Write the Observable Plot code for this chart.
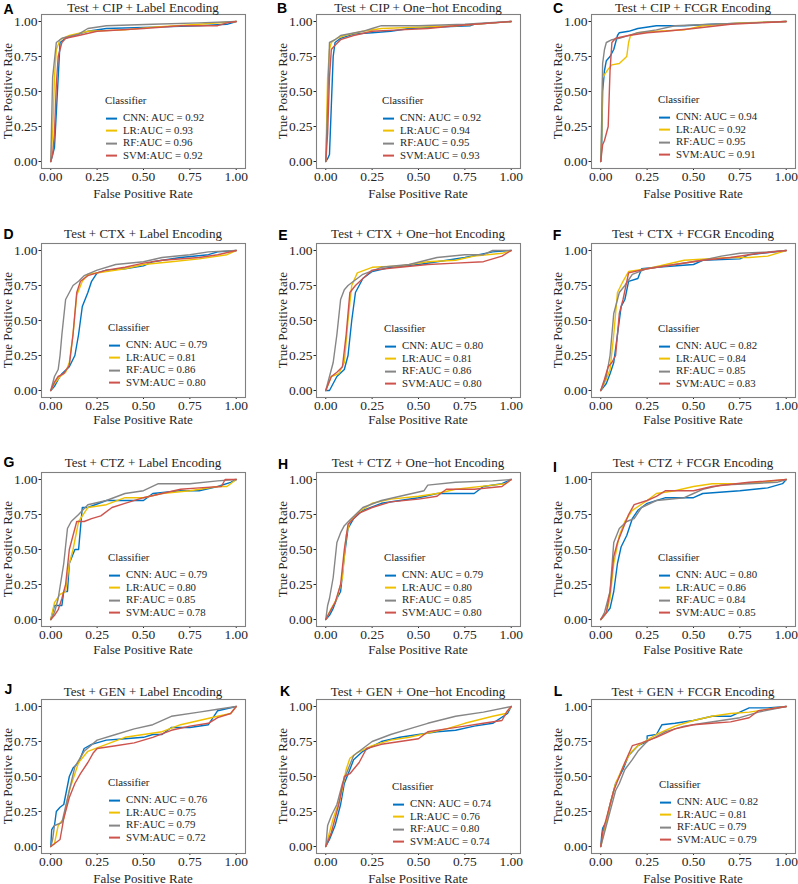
<!DOCTYPE html>
<html><head><meta charset="utf-8">
<script src="https://cdn.jsdelivr.net/npm/d3@7"></script>
<script src="https://cdn.jsdelivr.net/npm/@observablehq/plot@0.6"></script>
<style>
body{margin:0;background:#fff;}
#root{position:relative;width:798px;height:884px;overflow:hidden;font-family:"Liberation Serif","Times New Roman",serif;color:#262626;}
.abs{position:absolute;white-space:nowrap;line-height:1;}
.letter{font-family:"Liberation Sans",Arial,sans-serif;font-weight:bold;font-size:14px;color:#000;transform:translate(-50%,-50%);}
.title{font-size:13px;transform:translate(-50%,-50%);}
.xlab{font-size:13px;transform:translate(-50%,-50%);}
.ylab{font-size:13px;transform:translate(-50%,-50%) rotate(-90deg);}
.leg{font-size:10.8px;}
.key{display:inline-block;width:11px;height:0;border-top:2px solid;vertical-align:middle;margin-right:6px;}
</style></head><body><div id="root"></div>
<script>
// ---------- data ----------
const classifiers = ["CNN", "LR", "RF", "SVM"];
const palette = ["#0073C2", "#EFC000", "#868686", "#CD534C"];
const tickValues = [0, 0.25, 0.5, 0.75, 1];
const panelLetters = ["A","B","C","D","E","F","G","H","I","J","K","L"];
const panelTitles = [
  "Test + CIP + Label Encoding", "Test + CIP + One\u2212hot Encoding", "Test + CIP + FCGR Encoding",
  "Test + CTX + Label Encoding", "Test + CTX + One\u2212hot Encoding", "Test + CTX + FCGR Encoding",
  "Test + CTZ + Label Encoding", "Test + CTZ + One\u2212hot Encoding", "Test + CTZ + FCGR Encoding",
  "Test + GEN + Label Encoding", "Test + GEN + One\u2212hot Encoding", "Test + GEN + FCGR Encoding"
];
const aucValues = [
  ["0.92","0.93","0.96","0.92"], ["0.92","0.94","0.95","0.93"], ["0.94","0.92","0.95","0.91"],
  ["0.79","0.81","0.86","0.80"], ["0.80","0.81","0.86","0.80"], ["0.82","0.84","0.85","0.83"],
  ["0.79","0.80","0.85","0.78"], ["0.79","0.80","0.85","0.80"], ["0.80","0.86","0.84","0.85"],
  ["0.76","0.75","0.79","0.72"], ["0.74","0.76","0.80","0.74"], ["0.82","0.81","0.79","0.79"]
];

// ROC curves: [false positive rate, true positive rate]
const rocA = {
  CNN: [[0,0],[0.02,0.1],[0.03,0.35],[0.04,0.6],[0.05,0.85],[0.08,0.88],[0.12,0.9],[0.2,0.93],[0.3,0.95],[0.55,0.96],[0.8,0.97],[0.95,0.98],[1,1]],
  LR:  [[0,0],[0.01,0.2],[0.02,0.6],[0.03,0.8],[0.05,0.87],[0.1,0.9],[0.2,0.93],[0.4,0.94],[0.55,0.96],[0.8,0.98],[1,1]],
  RF:  [[0,0],[0.01,0.6],[0.03,0.85],[0.06,0.88],[0.15,0.91],[0.2,0.95],[0.3,0.97],[0.55,0.98],[0.8,0.99],[1,1]],
  SVM: [[0,0],[0.01,0.05],[0.02,0.2],[0.03,0.55],[0.04,0.75],[0.06,0.85],[0.08,0.88],[0.15,0.9],[0.25,0.93],[0.5,0.95],[0.7,0.97],[0.9,0.97],[0.95,0.99],[1,1]]
};
const rocB = {
  CNN: [[0,0],[0.01,0.02],[0.02,0.05],[0.03,0.4],[0.04,0.75],[0.05,0.85],[0.08,0.88],[0.15,0.91],[0.25,0.92],[0.35,0.93],[0.45,0.95],[0.6,0.96],[0.78,0.97],[0.8,0.98],[1,1]],
  LR:  [[0,0],[0.005,0.3],[0.01,0.6],[0.02,0.8],[0.03,0.85],[0.06,0.88],[0.1,0.9],[0.2,0.93],[0.3,0.95],[0.5,0.96],[0.7,0.97],[0.9,0.99],[1,1]],
  RF:  [[0,0],[0.01,0.4],[0.02,0.85],[0.05,0.87],[0.08,0.9],[0.2,0.93],[0.25,0.95],[0.3,0.97],[0.5,0.97],[0.75,0.98],[1,1]],
  SVM: [[0,0],[0.01,0.2],[0.02,0.6],[0.03,0.8],[0.05,0.83],[0.08,0.87],[0.15,0.9],[0.25,0.93],[0.4,0.94],[0.55,0.95],[0.7,0.97],[1,1]]
};
const rocC = {
  CNN: [[0,0],[0.005,0.1],[0.01,0.5],[0.02,0.65],[0.03,0.72],[0.05,0.75],[0.07,0.8],[0.08,0.85],[0.09,0.9],[0.1,0.92],[0.15,0.93],[0.2,0.95],[0.3,0.97],[0.45,0.97],[0.6,0.98],[0.8,0.99],[1,1]],
  LR:  [[0,0],[0.005,0.2],[0.01,0.6],[0.02,0.62],[0.04,0.66],[0.06,0.69],[0.1,0.7],[0.14,0.75],[0.15,0.85],[0.16,0.9],[0.2,0.92],[0.3,0.93],[0.45,0.94],[0.55,0.97],[0.75,0.99],[1,1]],
  RF:  [[0,0],[0.005,0.3],[0.01,0.7],[0.02,0.8],[0.03,0.85],[0.06,0.87],[0.1,0.88],[0.2,0.92],[0.3,0.94],[0.4,0.97],[0.6,0.98],[0.8,0.99],[1,1]],
  SVM: [[0,0],[0.01,0.12],[0.02,0.15],[0.03,0.2],[0.04,0.25],[0.05,0.65],[0.06,0.85],[0.08,0.88],[0.15,0.9],[0.25,0.92],[0.35,0.93],[0.5,0.95],[0.7,0.98],[1,1]]
};
const rocD = {
  CNN: [[0,0],[0.02,0.03],[0.04,0.08],[0.06,0.12],[0.1,0.17],[0.13,0.25],[0.15,0.4],[0.17,0.6],[0.2,0.7],[0.22,0.78],[0.25,0.84],[0.3,0.86],[0.4,0.87],[0.5,0.89],[0.55,0.92],[0.7,0.95],[0.85,0.97],[0.9,0.99],[1,1]],
  LR:  [[0,0],[0.02,0.05],[0.05,0.1],[0.08,0.13],[0.1,0.2],[0.12,0.4],[0.14,0.68],[0.17,0.78],[0.2,0.83],[0.3,0.85],[0.4,0.87],[0.5,0.9],[0.65,0.92],[0.8,0.94],[0.95,0.97],[1,1]],
  RF:  [[0,0],[0.02,0.1],[0.04,0.15],[0.05,0.25],[0.06,0.4],[0.08,0.65],[0.1,0.7],[0.12,0.75],[0.15,0.78],[0.18,0.82],[0.25,0.86],[0.35,0.9],[0.5,0.92],[0.6,0.95],[0.75,0.97],[0.85,0.99],[1,1]],
  SVM: [[0,0],[0.02,0.06],[0.04,0.1],[0.07,0.12],[0.1,0.18],[0.12,0.4],[0.14,0.7],[0.16,0.78],[0.2,0.82],[0.3,0.86],[0.4,0.88],[0.5,0.91],[0.6,0.93],[0.8,0.95],[0.9,0.97],[1,1]]
};
const rocE = {
  CNN: [[0,0],[0.02,0],[0.04,0.05],[0.06,0.1],[0.1,0.15],[0.12,0.25],[0.14,0.5],[0.16,0.7],[0.2,0.8],[0.25,0.85],[0.35,0.88],[0.5,0.9],[0.6,0.92],[0.75,0.95],[0.9,0.99],[1,1]],
  LR:  [[0,0],[0.03,0.1],[0.07,0.12],[0.1,0.2],[0.12,0.5],[0.14,0.75],[0.17,0.84],[0.25,0.88],[0.4,0.89],[0.55,0.92],[0.7,0.93],[0.8,0.96],[0.95,0.98],[1,1]],
  RF:  [[0,0],[0.02,0.1],[0.04,0.2],[0.06,0.4],[0.08,0.65],[0.1,0.72],[0.12,0.75],[0.15,0.78],[0.2,0.83],[0.3,0.88],[0.45,0.9],[0.6,0.95],[0.75,0.97],[0.85,0.97],[0.9,1],[1,1]],
  SVM: [[0,0],[0.03,0.1],[0.06,0.13],[0.09,0.17],[0.11,0.4],[0.13,0.7],[0.16,0.75],[0.2,0.8],[0.25,0.86],[0.4,0.88],[0.55,0.9],[0.7,0.91],[0.85,0.92],[0.95,0.96],[1,1]]
};
const rocF = {
  CNN: [[0,0],[0.03,0.05],[0.05,0.12],[0.07,0.2],[0.09,0.4],[0.11,0.6],[0.13,0.65],[0.15,0.78],[0.2,0.8],[0.22,0.87],[0.3,0.88],[0.5,0.9],[0.55,0.93],[0.75,0.94],[0.8,0.97],[1,1]],
  LR:  [[0,0],[0.03,0.08],[0.05,0.15],[0.07,0.4],[0.09,0.7],[0.12,0.78],[0.15,0.85],[0.25,0.87],[0.35,0.9],[0.45,0.93],[0.7,0.95],[0.8,0.95],[0.9,0.96],[1,1]],
  RF:  [[0,0],[0.03,0.1],[0.05,0.25],[0.07,0.55],[0.1,0.7],[0.13,0.75],[0.17,0.83],[0.25,0.87],[0.4,0.9],[0.55,0.93],[0.65,0.96],[0.75,0.98],[0.9,0.99],[1,1]],
  SVM: [[0,0],[0.02,0.08],[0.04,0.17],[0.06,0.2],[0.08,0.25],[0.1,0.55],[0.12,0.65],[0.15,0.84],[0.25,0.87],[0.4,0.9],[0.55,0.93],[0.7,0.95],[0.85,0.98],[1,1]]
};
const rocG = {
  CNN: [[0,0],[0.01,0.05],[0.02,0.1],[0.06,0.1],[0.07,0.2],[0.09,0.2],[0.1,0.4],[0.13,0.5],[0.15,0.5],[0.17,0.8],[0.2,0.8],[0.3,0.85],[0.5,0.85],[0.55,0.9],[0.7,0.92],[0.8,0.92],[0.9,0.95],[0.97,0.98],[1,1]],
  LR:  [[0,0],[0.02,0.12],[0.05,0.18],[0.08,0.2],[0.1,0.4],[0.12,0.5],[0.15,0.7],[0.2,0.8],[0.3,0.82],[0.4,0.87],[0.5,0.87],[0.6,0.9],[0.75,0.92],[0.9,0.95],[0.95,0.95],[1,1]],
  RF:  [[0,0],[0.02,0.05],[0.04,0.15],[0.07,0.4],[0.09,0.65],[0.11,0.7],[0.15,0.75],[0.2,0.82],[0.3,0.85],[0.4,0.9],[0.5,0.92],[0.58,0.97],[0.75,0.97],[0.9,0.99],[1,1]],
  SVM: [[0,0],[0.02,0.03],[0.04,0.07],[0.06,0.15],[0.08,0.25],[0.1,0.5],[0.12,0.6],[0.14,0.7],[0.18,0.7],[0.22,0.72],[0.27,0.74],[0.33,0.8],[0.4,0.83],[0.5,0.87],[0.6,0.9],[0.7,0.93],[0.8,0.94],[0.92,0.95],[0.94,1],[1,1]]
};
const rocH = {
  CNN: [[0,0],[0.02,0.03],[0.04,0.08],[0.06,0.15],[0.08,0.2],[0.1,0.45],[0.12,0.65],[0.15,0.72],[0.2,0.78],[0.3,0.83],[0.4,0.85],[0.5,0.87],[0.6,0.9],[0.8,0.9],[0.85,0.95],[0.95,0.97],[1,1]],
  LR:  [[0,0],[0.03,0.08],[0.06,0.15],[0.09,0.3],[0.11,0.6],[0.13,0.7],[0.18,0.77],[0.25,0.83],[0.35,0.86],[0.5,0.88],[0.6,0.9],[0.7,0.93],[0.9,0.96],[0.97,0.97],[1,1]],
  RF:  [[0,0],[0.01,0.1],[0.02,0.15],[0.04,0.3],[0.06,0.55],[0.08,0.62],[0.1,0.67],[0.13,0.71],[0.2,0.8],[0.3,0.85],[0.4,0.88],[0.53,0.92],[0.55,0.96],[0.7,0.98],[0.9,0.99],[1,1]],
  SVM: [[0,0],[0.02,0.05],[0.05,0.12],[0.08,0.25],[0.1,0.5],[0.12,0.68],[0.18,0.76],[0.25,0.8],[0.35,0.84],[0.5,0.86],[0.6,0.88],[0.65,0.93],[0.8,0.93],[0.95,0.95],[1,1]]
};
const rocI = {
  CNN: [[0,0],[0.02,0.03],[0.05,0.08],[0.07,0.2],[0.09,0.4],[0.11,0.52],[0.14,0.6],[0.17,0.72],[0.2,0.78],[0.25,0.83],[0.35,0.87],[0.5,0.87],[0.55,0.9],[0.75,0.92],[0.9,0.94],[0.98,0.97],[1,1]],
  LR:  [[0,0],[0.03,0.05],[0.05,0.15],[0.07,0.4],[0.1,0.6],[0.13,0.7],[0.17,0.78],[0.25,0.85],[0.3,0.9],[0.4,0.92],[0.5,0.95],[0.6,0.97],[0.75,0.97],[0.85,0.98],[1,1]],
  RF:  [[0,0],[0.02,0.05],[0.05,0.2],[0.07,0.55],[0.1,0.65],[0.14,0.7],[0.18,0.72],[0.22,0.8],[0.3,0.85],[0.45,0.87],[0.5,0.9],[0.55,0.93],[0.65,0.96],[0.8,0.97],[0.95,0.98],[1,1]],
  SVM: [[0,0],[0.03,0.05],[0.05,0.2],[0.07,0.45],[0.09,0.55],[0.12,0.65],[0.15,0.75],[0.18,0.82],[0.25,0.85],[0.3,0.88],[0.35,0.92],[0.5,0.92],[0.6,0.95],[0.8,0.98],[1,1]]
};
const rocJ = {
  CNN: [[0,0],[0.005,0.12],[0.02,0.15],[0.03,0.25],[0.05,0.28],[0.07,0.3],[0.1,0.5],[0.12,0.56],[0.15,0.6],[0.18,0.7],[0.22,0.73],[0.3,0.76],[0.4,0.77],[0.5,0.78],[0.55,0.8],[0.6,0.8],[0.65,0.85],[0.75,0.85],[0.85,0.87],[0.9,0.97],[1,1]],
  LR:  [[0,0],[0.02,0.02],[0.04,0.15],[0.07,0.2],[0.1,0.4],[0.15,0.6],[0.2,0.68],[0.3,0.73],[0.4,0.78],[0.5,0.8],[0.6,0.82],[0.7,0.87],[0.8,0.9],[0.9,0.93],[0.97,0.95],[1,1]],
  RF:  [[0,0],[0.01,0.05],[0.02,0.15],[0.06,0.17],[0.1,0.4],[0.13,0.57],[0.18,0.68],[0.25,0.76],[0.35,0.8],[0.45,0.84],[0.55,0.87],[0.65,0.93],[0.8,0.96],[0.9,0.98],[1,1]],
  SVM: [[0,0],[0.02,0.02],[0.05,0.05],[0.07,0.2],[0.1,0.35],[0.13,0.45],[0.16,0.52],[0.2,0.6],[0.23,0.67],[0.25,0.7],[0.35,0.72],[0.45,0.74],[0.55,0.78],[0.65,0.83],[0.75,0.86],[0.85,0.88],[0.9,0.92],[0.97,0.95],[1,1]]
};
const rocK = {
  CNN: [[0,0],[0.02,0.05],[0.05,0.15],[0.08,0.3],[0.1,0.45],[0.13,0.55],[0.15,0.62],[0.2,0.68],[0.3,0.75],[0.4,0.78],[0.5,0.8],[0.6,0.82],[0.7,0.83],[0.8,0.86],[0.9,0.88],[0.98,0.95],[1,1]],
  LR:  [[0,0],[0.02,0.1],[0.04,0.2],[0.08,0.35],[0.11,0.55],[0.13,0.63],[0.17,0.67],[0.25,0.72],[0.35,0.76],[0.45,0.78],[0.55,0.81],[0.65,0.84],[0.75,0.88],[0.9,0.93],[0.97,0.95],[1,1]],
  RF:  [[0,0],[0.01,0.15],[0.03,0.22],[0.06,0.3],[0.09,0.45],[0.12,0.55],[0.15,0.65],[0.2,0.7],[0.25,0.75],[0.35,0.8],[0.45,0.84],[0.55,0.88],[0.7,0.93],[0.85,0.96],[1,1]],
  SVM: [[0,0],[0.03,0.1],[0.07,0.3],[0.1,0.5],[0.13,0.52],[0.18,0.6],[0.22,0.7],[0.3,0.73],[0.4,0.75],[0.5,0.77],[0.55,0.82],[0.65,0.84],[0.75,0.86],[0.85,0.88],[0.95,0.9],[0.98,0.97],[1,1]]
};
const rocL = {
  CNN: [[0,0],[0.005,0.08],[0.01,0.13],[0.03,0.18],[0.05,0.3],[0.08,0.45],[0.12,0.55],[0.15,0.65],[0.2,0.72],[0.25,0.75],[0.25,0.79],[0.3,0.8],[0.33,0.87],[0.4,0.88],[0.5,0.9],[0.6,0.93],[0.7,0.93],[0.8,0.99],[0.9,0.99],[1,1]],
  LR:  [[0,0],[0.02,0.12],[0.05,0.3],[0.08,0.45],[0.12,0.57],[0.16,0.67],[0.2,0.72],[0.3,0.8],[0.4,0.86],[0.5,0.9],[0.6,0.93],[0.7,0.95],[0.8,0.96],[0.9,0.98],[1,1]],
  RF:  [[0,0],[0.02,0.1],[0.05,0.25],[0.08,0.4],[0.1,0.45],[0.13,0.55],[0.17,0.62],[0.2,0.68],[0.25,0.75],[0.35,0.82],[0.45,0.86],[0.55,0.88],[0.65,0.9],[0.75,0.92],[0.85,0.96],[1,1]],
  SVM: [[0,0],[0.01,0.1],[0.04,0.25],[0.07,0.4],[0.1,0.5],[0.13,0.6],[0.17,0.72],[0.22,0.74],[0.3,0.78],[0.4,0.84],[0.5,0.87],[0.6,0.88],[0.7,0.89],[0.8,0.92],[0.85,0.97],[1,1]]
};
const rocPanels = [rocA, rocB, rocC, rocD, rocE, rocF, rocG, rocH, rocI, rocJ, rocK, rocL];

// ---------- layout (pixels) ----------
const colFrameLeft = [41, 316, 591];
const rowFrameTop = [14, 243, 472, 699];
const frameW = 204, frameH = 154;
const rowTitleY = [7, 233, 462, 691];
const rowXLabelY = [193, 419, 649, 878];
const letterPos = [[8.5,8.5],[282,8],[558,8],[8.5,233.5],[283,234.5],[557,234.5],[9,461.5],[283,463.5],[555,466.5],[8.5,689],[285,690.5],[558,690.5]];
const legendDX = [64,66,67,67,68,67,67,68,67,67,76,68];
const legendDY = [86,86,85,84,85,85,85,85,85,83,87,85];

const root = document.getElementById("root");
function addDiv(cls, text, left, top) {
  const d = document.createElement("div");
  d.className = "abs " + cls;
  d.textContent = text;
  d.style.left = left + "px";
  d.style.top = top + "px";
  root.appendChild(d);
  return d;
}

const mL = 41, mR = 4, mT = 2, mB = 22;

rocPanels.forEach((roc, i) => {
  const col = i % 3, row = Math.floor(i / 3);
  const fx = colFrameLeft[col], fy = rowFrameTop[row];
  const data = classifiers.flatMap(c => roc[c].map(([x, y]) => ({x, y, c})));
  const chart = Plot.plot({
    width: mL + frameW + mR, height: mT + frameH + mB,
    marginLeft: mL, marginRight: mR, marginTop: mT, marginBottom: mB,
    style: {fontFamily: '"Liberation Serif","Times New Roman",serif', fontSize: "13.5px", color: "#262626", background: "transparent", overflow: "visible"},
    x: {domain: [-0.05, 1.05], ticks: tickValues, tickFormat: d3.format(".2f"), label: null, tickSize: 2, tickPadding: 0.5},
    y: {domain: [-0.05, 1.05], ticks: tickValues, tickFormat: d3.format(".2f"), label: null, tickSize: 2.5, tickPadding: 1.5},
    color: {domain: classifiers, range: palette},
    marks: [
      Plot.line(data, {x: "x", y: "y", z: "c", stroke: "c", strokeWidth: 1.4}),
      Plot.frame({stroke: "#808080", strokeWidth: 1.1})
    ]
  });
  chart.style.position = "absolute";
  chart.style.left = (fx - mL) + "px";
  chart.style.top = (fy - mT) + "px";
  root.appendChild(chart);

  const cx = fx + frameW / 2;
  addDiv("title", panelTitles[i], cx, rowTitleY[row]);
  addDiv("xlab", "False Positive Rate", cx, rowXLabelY[row]);
  addDiv("ylab", "True Positive Rate", fx - 34, fy + frameH / 2);
  addDiv("letter", panelLetters[i], letterPos[i][0], letterPos[i][1]);

  // legend
  const lx = fx + legendDX[i], ly = fy + legendDY[i];
  const head = addDiv("leg", "Classifier", lx, ly);
  head.style.transform = "translateY(-50%)";
  const offs = [17, 29.5, 42, 54.5];
  classifiers.forEach((c, k) => {
    const sep = c === "CNN" ? ": " : ":";
    const e = addDiv("leg", "", lx + 1, ly + offs[k]);
    e.style.transform = "translateY(-50%)";
    const key = document.createElement("span");
    key.className = "key";
    key.style.borderTopColor = palette[k];
    e.appendChild(key);
    e.appendChild(document.createTextNode(c + sep + "AUC = " + aucValues[i][k]));
  });
});
</script></body></html>
